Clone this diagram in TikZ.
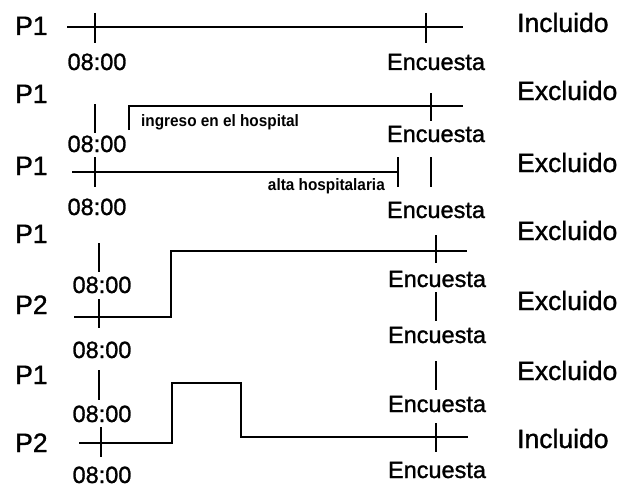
\documentclass[tikz,border=0pt]{standalone}
\usepackage{fontspec}
\setmainfont{Liberation Sans}[FakeBold=1.2]
\newfontfamily\smallfont{Liberation Sans Bold}[FakeStretch=0.93]
\begin{document}
\begin{tikzpicture}[x=1pt,y=-1pt,
  big/.style={anchor=base west,inner sep=0pt,font=\fontsize{26.5}{26.5}\selectfont},
  lab/.style={anchor=base,inner sep=0pt,font=\fontsize{23.5}{23.5}\selectfont},
  small/.style={inner sep=0pt,font=\smallfont\fontsize{16.5}{16.5}\selectfont},
  tl/.style={line width=1.4pt,black},
  stp/.style={line width=2pt,black}]
\useasboundingbox (0,0) rectangle (621,487);
% ---------- Row 1
\node[big] (p1a) at (15,35) {P1};
\node[big] (r1) at (517,32) {Incluido};
\coordinate (a0) at (67,27); \coordinate (a1) at (463,27);
\draw[tl] (a0) -- (a1);
\draw[tl] (95,13) coordinate (t1a) -- (95,43) coordinate (t1b);
\draw[tl] (426,13) coordinate (e1a) -- (426,43) coordinate (e1b);
\node[lab] (h1) at (97,70) {08:00};
\node[lab] (s1) at (436,70) {Encuesta};
% ---------- Row 2
\node[big] (p1b) at (15,103) {P1};
\node[big] (r2) at (517,100) {Excluido};
\coordinate (b0) at (129,130); \coordinate (b1) at (129,106); \coordinate (b2) at (463,106);
\draw[tl] (b0) -- (b1) -- (b2);
\draw[tl] (95,104) coordinate (t2a) -- (95,133) coordinate (t2b);
\draw[tl] (431,93) coordinate (e2a) -- (431,121) coordinate (e2b);
\node[small,anchor=base west] (ing) at (141,126) {ingreso en el hospital};
\node[lab] (h2) at (97,152) {08:00};
\node[lab] (s2) at (436,142) {Encuesta};
% ---------- Row 3
\node[big] (p1c) at (15,175) {P1};
\node[big] (r3) at (517,172) {Excluido};
\coordinate (c0) at (72,172); \coordinate (c1) at (398,172);
\draw[tl] (c0) -- (c1);
\draw[tl] (398,157) coordinate (c2) -- (398,187) coordinate (c3);
\draw[tl] (95,157) coordinate (t3a) -- (95,187) coordinate (t3b);
\draw[tl] (431,157) coordinate (e3a) -- (431,187) coordinate (e3b);
\node[small,anchor=base east] (alt) at (385,190) {alta hospitalaria};
\node[lab] (h3) at (97,215) {08:00};
\node[lab] (s3) at (436,218) {Encuesta};
% ---------- Rows 4-5
\node[big] (p1d) at (15,243) {P1};
\node[big] (r4) at (517,240) {Excluido};
\draw[tl] (99,243) coordinate (t4a) -- (99,272) coordinate (t4b);
\draw[tl] (436,235) coordinate (e4a) -- (436,263) coordinate (e4b);
\node[lab] (h4) at (102,293) {08:00};
\node[lab] (s4) at (437,287) {Encuesta};
\node[big] (p2a) at (15,314) {P2};
\node[big] (r5) at (517,310) {Excluido};
\coordinate (d0) at (74,317); \coordinate (d1) at (171,317);
\coordinate (d2) at (171,251); \coordinate (d3) at (467,251);
\draw[stp] (d0) -- (d1) -- (d2) -- (d3);
\draw[tl] (99,299) coordinate (t5a) -- (99,328) coordinate (t5b);
\draw[tl] (436,292) coordinate (e5a) -- (436,321) coordinate (e5b);
\node[lab] (h5) at (102,358) {08:00};
\node[lab] (s5) at (437,343) {Encuesta};
% ---------- Row 6
\node[big] (p1e) at (15,384) {P1};
\node[big] (r6) at (517,380) {Excluido};
\draw[tl] (99,370) coordinate (t6a) -- (99,400) coordinate (t6b);
\draw[tl] (436,361) coordinate (e6a) -- (436,390) coordinate (e6b);
\node[lab] (h6) at (102,422) {08:00};
\node[lab] (s6) at (437,412) {Encuesta};
\node[big] (p2b) at (15,452) {P2};
\node[big] (r7) at (517,448) {Incluido};
\coordinate (f0) at (79,443); \coordinate (f1) at (172,443);
\coordinate (f2) at (172,383); \coordinate (f3) at (241,383);
\coordinate (f4) at (241,437); \coordinate (f5) at (468,437);
\draw[tl,line width=1.6pt] (f0) -- (f1) -- (f2) -- (f3) -- (f4) -- (f5);
\draw[tl] (101,427) coordinate (t7a) -- (101,457) coordinate (t7b);
\draw[tl] (436,423) coordinate (e7a) -- (436,452) coordinate (e7b);
\node[lab] (h7) at (102,483) {08:00};
\node[lab] (s7) at (437,478) {Encuesta};
\end{tikzpicture}
\end{document}
